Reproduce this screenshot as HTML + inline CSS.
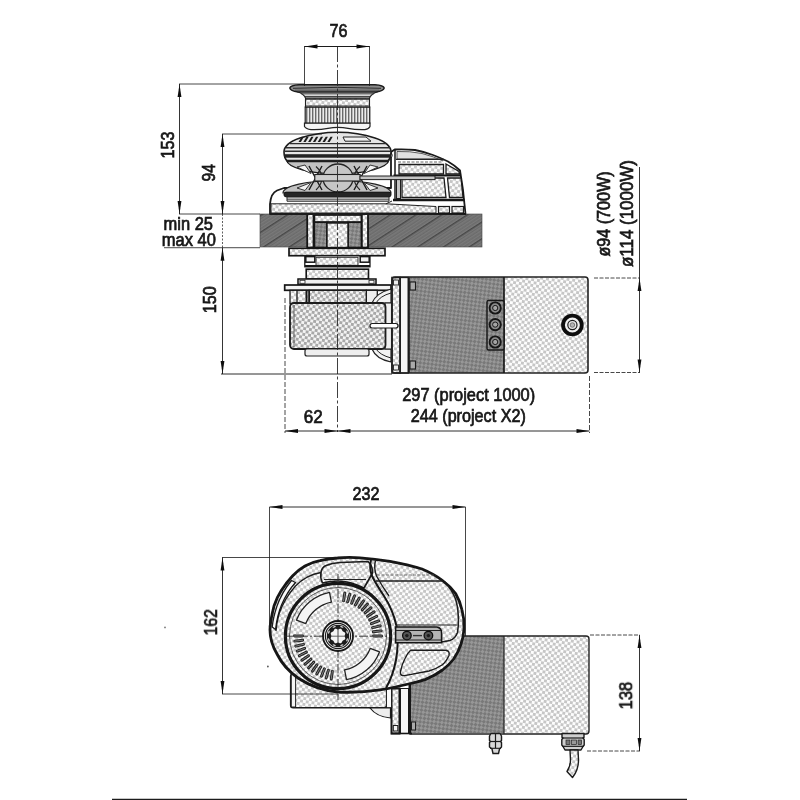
<!DOCTYPE html>
<html><head><meta charset="utf-8"><title>Windlass dimensions</title>
<style>
html,body{margin:0;padding:0;background:#fff;}
body{width:800px;height:800px;overflow:hidden;font-family:"Liberation Sans",sans-serif;}
svg{display:block}
text{font-family:"Liberation Sans",sans-serif;fill:#151515;stroke:#151515;stroke-width:0.7px;}
</style></head><body>
<svg width="800" height="800" viewBox="0 0 800 800">
<defs>
<pattern id="pL" width="5.8" height="5.8" patternUnits="userSpaceOnUse" patternTransform="rotate(9)"><rect width="5.8" height="5.8" fill="#fdfdfd"/><rect x="0" y="0" width="2.9" height="2.9" fill="#c6c6c6"/><rect x="2.9" y="2.9" width="2.9" height="2.9" fill="#c6c6c6"/></pattern>
<pattern id="pM" width="5.8" height="5.8" patternUnits="userSpaceOnUse" patternTransform="rotate(9)"><rect width="5.8" height="5.8" fill="#f4f4f4"/><rect x="0" y="0" width="2.9" height="2.9" fill="#a8a8a8"/><rect x="2.9" y="2.9" width="2.9" height="2.9" fill="#a8a8a8"/></pattern>
<pattern id="pD" width="5.6" height="5.6" patternUnits="userSpaceOnUse" patternTransform="rotate(-38)"><rect width="5.6" height="5.6" fill="#979797"/><rect x="0" y="0" width="2.8" height="2.8" fill="#797979"/><rect x="2.8" y="2.8" width="2.8" height="2.8" fill="#797979"/></pattern>
<pattern id="pK" width="14" height="14" patternUnits="userSpaceOnUse" patternTransform="rotate(-33)"><rect width="14" height="14" fill="#7a7a7a"/><rect y="2.8" width="14" height="1.3" fill="#696969"/><rect y="5.6" width="14" height="1.3" fill="#696969"/><rect y="8.4" width="14" height="1.3" fill="#696969"/><rect y="11.2" width="14" height="1.3" fill="#696969"/><rect width="14" height="1.5" fill="#474747"/></pattern>
<pattern id="pV" width="3" height="4" patternUnits="userSpaceOnUse"><rect width="3" height="4" fill="#ececec"/><rect width="1.4" height="4" fill="#6a6a6a"/></pattern>
<filter id="soft" x="-2%" y="-2%" width="104%" height="104%"><feGaussianBlur stdDeviation="0.45"/></filter>
<filter id="soft2" x="-2%" y="-2%" width="104%" height="104%"><feGaussianBlur stdDeviation="0.3"/></filter>
</defs>
<rect width="800" height="800" fill="#fff"/>
<g filter="url(#soft)">

<rect x="260" y="214" width="222" height="33" fill="url(#pK)" stroke="#444" stroke-width="0.6" />
<rect x="307" y="214" width="61" height="33.5" fill="#fff" stroke="none" stroke-width="1" />
<rect x="307.2" y="214" width="6.3" height="33.5" fill="url(#pL)" stroke="#151515" stroke-width="1.8" />
<rect x="361.8" y="214" width="6.2" height="33.5" fill="url(#pL)" stroke="#151515" stroke-width="1.8" />
<rect x="314.4" y="222" width="12.6" height="25.5" fill="url(#pD)" stroke="#151515" stroke-width="1.6" />
<rect x="348" y="222" width="13.4" height="25.5" fill="url(#pD)" stroke="#151515" stroke-width="1.6" />
<rect x="327" y="223" width="21" height="24.5" fill="url(#pL)" stroke="#151515" stroke-width="1.4" />
<rect x="314.4" y="215" width="47" height="7" fill="url(#pL)" stroke="#151515" stroke-width="1.7" />
<rect x="289" y="248.3" width="96" height="7.4" fill="url(#pL)" stroke="#151515" stroke-width="1.7" />
<rect x="304.8" y="255.8" width="65.2" height="11" fill="#fff" stroke="#1a1a1a" stroke-width="1.3" />
<rect x="316" y="257.3" width="42" height="8" fill="url(#pL)" stroke="#222" stroke-width="0.9" />
<rect x="305.8" y="256.6" width="9" height="5.6" fill="#f2f2f2" stroke="#151515" stroke-width="1.5" />
<rect x="360.2" y="256.6" width="9" height="5.6" fill="#f2f2f2" stroke="#151515" stroke-width="1.5" />
<line x1="305" y1="266" x2="370" y2="266" stroke="#151515" stroke-width="2.2" />
<rect x="306.2" y="269.2" width="62.3" height="9.8" fill="url(#pL)" stroke="#151515" stroke-width="1.6" />
<rect x="298" y="279" width="78" height="5.3" fill="#f0f0f0" stroke="#151515" stroke-width="1.5" />
<rect x="300" y="280.3" width="5" height="3" fill="#fff" stroke="#222" stroke-width="0.8" />
<rect x="369" y="280.3" width="5" height="3" fill="#fff" stroke="#222" stroke-width="0.8" />
<rect x="284.7" y="285" width="106.3" height="5.3" fill="#f4f4f4" stroke="#151515" stroke-width="1.7" />
<rect x="290" y="290.3" width="19" height="13.5" fill="url(#pL)" stroke="#1a1a1a" stroke-width="1.3" />
<line x1="297" y1="290.3" x2="297" y2="303.8" stroke="#1a1a1a" stroke-width="1.3" />
<line x1="306.5" y1="290.3" x2="306.5" y2="303.8" stroke="#151515" stroke-width="2" />
<rect x="366.3" y="290.3" width="11" height="13.5" fill="#eee" stroke="#1a1a1a" stroke-width="1.3" />
<rect x="309.3" y="290.3" width="57" height="13.5" fill="url(#pM)" stroke="#1a1a1a" stroke-width="1.4" />
<path d="M372 303 Q376 293 391 289 L391 303 Z" fill="#f2f2f2" stroke="#222" stroke-width="1.2" />
<path d="M376 303 Q380 296 391 293" fill="none" stroke="#222" stroke-width="1" />
<path d="M372 349 Q376 359 391 362 L391 349 Z" fill="#f2f2f2" stroke="#222" stroke-width="1.2" />
<path d="M376 349 Q380 355 391 358" fill="none" stroke="#222" stroke-width="1" />
<rect x="385" y="303" width="6.5" height="46" fill="#f0f0f0" stroke="#222" stroke-width="1.1" />
<rect x="290" y="303" width="95.5" height="46" fill="url(#pM)" stroke="#1a1a1a" stroke-width="1.8" rx="4"/>
<line x1="294" y1="305" x2="294" y2="347" stroke="#444" stroke-width="0.8" />
<rect x="305" y="349" width="64" height="7" fill="#eee" stroke="#222" stroke-width="1.2" rx="2"/>
<rect x="392" y="277" width="196" height="96" fill="#fff" stroke="none" stroke-width="1" />
<rect x="408" y="277" width="96" height="96" fill="url(#pD)" stroke="none" stroke-width="1" />
<rect x="504" y="277" width="84" height="96" fill="url(#pL)" stroke="none" stroke-width="1" />
<rect x="392" y="277.5" width="8" height="95.5" fill="url(#pL)" stroke="#1a1a1a" stroke-width="1.6" />
<rect x="393.5" y="280" width="5" height="5" fill="#eee" stroke="#222" stroke-width="0.9" />
<rect x="393.5" y="365" width="5" height="5" fill="#eee" stroke="#222" stroke-width="0.9" />
<rect x="400.3" y="277.5" width="8" height="95.5" fill="#f6f6f6" stroke="#1a1a1a" stroke-width="1.3" />
<line x1="408.8" y1="277.5" x2="408.8" y2="373" stroke="#1a1a1a" stroke-width="2" />
<rect x="392" y="277" width="196" height="96" fill="none" stroke="#222" stroke-width="1.6" rx="3"/>
<line x1="504" y1="277" x2="504" y2="373" stroke="#1a1a1a" stroke-width="1.7" />
<rect x="410" y="282" width="5.5" height="8" fill="#aaa" stroke="#1a1a1a" stroke-width="1.1" />
<rect x="410" y="361" width="5.5" height="8" fill="#aaa" stroke="#1a1a1a" stroke-width="1.1" />
<rect x="370" y="323.5" width="28" height="4.5" fill="#fff" stroke="#1a1a1a" stroke-width="1.2" rx="2.2"/>
<rect x="487" y="300.5" width="17" height="49.5" fill="url(#pD)" stroke="#151515" stroke-width="1.4" rx="1.5"/>
<circle cx="495.2" cy="308" r="5.6" fill="#8c8c8c" stroke="#151515" stroke-width="1.9"/><circle cx="495.2" cy="308" r="2.6" fill="#a5a5a5" stroke="#1a1a1a" stroke-width="1"/>
<circle cx="495.2" cy="324.6" r="5.6" fill="#8c8c8c" stroke="#151515" stroke-width="1.9"/><circle cx="495.2" cy="324.6" r="2.6" fill="#a5a5a5" stroke="#1a1a1a" stroke-width="1"/>
<circle cx="495.2" cy="342" r="5.6" fill="#8c8c8c" stroke="#151515" stroke-width="1.9"/><circle cx="495.2" cy="342" r="2.6" fill="#a5a5a5" stroke="#1a1a1a" stroke-width="1"/>
<circle cx="572.4" cy="325" r="9.4" fill="#f0f0f0" stroke="#111" stroke-width="3.8"/><circle cx="572.4" cy="325" r="4.6" fill="#e6e6e6" stroke="#1a1a1a" stroke-width="1.2"/><circle cx="572.4" cy="325" r="2.3" fill="#b5b5b5" stroke="#444" stroke-width="0.6"/>
<path d="M270 214 L270 204 Q271 193 277 190.5 L284 188 L391 188 L391 152 L394.7 149.5 Q405 149 415 150 Q425 152 433 155 Q441 158 448 161.5 Q455 165.5 460 170.5 L463 190 L465.5 214 Z" fill="#fff" stroke="#1a1a1a" stroke-width="1.8" stroke-linejoin="round"/>
<path d="M271 203.8 L386 203.8 L436 206.5 L436 213 L271 213 Z" fill="url(#pL)" stroke="#222" stroke-width="1" />
<path d="M386 203.8 L392 201" fill="none" stroke="#222" stroke-width="1" />
<rect x="438.5" y="206.5" width="11" height="6.5" fill="url(#pL)" stroke="#1a1a1a" stroke-width="1.2" />
<rect x="452" y="206.5" width="11.5" height="6.5" fill="url(#pL)" stroke="#1a1a1a" stroke-width="1.2" />
<path d="M397 151.5 Q410 151 422 153.5 Q434 156.5 443 161 L443 159 L397 159 Z" fill="#e0e0e0" stroke="#333" stroke-width="0.8" />
<line x1="396" y1="159.3" x2="444" y2="159.3" stroke="#222" stroke-width="1.3" />
<line x1="398" y1="162" x2="443" y2="162" stroke="#555" stroke-width="0.9" stroke-dasharray="3 1.5"/>
<path d="M399 164.5 L443.5 164.5 L443.5 174 L399 174 Z" fill="url(#pL)" stroke="#1a1a1a" stroke-width="1.3" />
<path d="M446 164 L459 171.5 L459.5 174 L446 174 Z" fill="url(#pL)" stroke="#1a1a1a" stroke-width="1.3" />
<path d="M402 178 L444 178 L446 197.5 L402 197.5 Z" fill="url(#pL)" stroke="#1a1a1a" stroke-width="1.3" />
<path d="M447.5 178 L461 178 L463 197.5 L449.5 197.5 Z" fill="url(#pL)" stroke="#1a1a1a" stroke-width="1.3" />
<line x1="393.5" y1="175.5" x2="461" y2="175.5" stroke="#151515" stroke-width="2.2" />
<line x1="393" y1="200" x2="464.5" y2="200" stroke="#151515" stroke-width="2.6" />
<line x1="395" y1="150" x2="395" y2="200" stroke="#1a1a1a" stroke-width="1.5" />
<rect x="396.5" y="178" width="4" height="20.5" fill="#c4c4c4" stroke="#1a1a1a" stroke-width="1" />
<path d="M391 152 Q393.5 155 391 159" fill="#ddd" stroke="#222" stroke-width="1" />
<path d="M283 193 A54 12.5 0 0 1 391 193 Z" fill="#c2c2c2" stroke="#222" stroke-width="1.2" />
<path d="M286.5 160 A51.3 14.5 0 0 0 389 160 Z" fill="#c2c2c2" stroke="#1a1a1a" stroke-width="1.4" />
<path d="M297 167 L311 173.5 L305 165 Z" fill="#f4f4f4" stroke="#222" stroke-width="0.9" />
<path d="M378 167 L364 173.5 L370 165 Z" fill="#f4f4f4" stroke="#222" stroke-width="0.9" />
<path d="M297 188 L311 182.5 L305 190.5 Z" fill="#f4f4f4" stroke="#222" stroke-width="0.9" />
<path d="M378 188 L364 182.5 L370 190.5 Z" fill="#f4f4f4" stroke="#222" stroke-width="0.9" />
<ellipse cx="338" cy="178" rx="15" ry="14" fill="#c6c6c6" stroke="#222" stroke-width="1.3"/>
<path d="M316 166.5 Q322 172 322 178 Q322 184 316 190 M360 166.5 Q354 172 354 178 Q354 184 360 190" fill="none" stroke="#222" stroke-width="1.1" />
<path d="M309 166 L322 190 M322 166 L309 190 M367 166 L354 190 M354 166 L367 190" fill="none" stroke="#1a1a1a" stroke-width="1.4" />
<rect x="314.8" y="174.5" width="45.4" height="6.5" fill="#cdcdcd" stroke="#222" stroke-width="1.1" />
<rect x="360" y="176" width="75" height="3.6" fill="#c4c4c4" stroke="#222" stroke-width="1" />
<rect x="284" y="192.2" width="107" height="4.6" fill="#262626" stroke="#111" stroke-width="1" rx="2"/>
<path d="M287 197 L389 197 L389 201.2 L287 201.2 Z" fill="#e2e2e2" stroke="#222" stroke-width="1" />
<line x1="287" y1="199.2" x2="389" y2="199.2" stroke="#333" stroke-width="0.9" />
<path d="M284 152 Q284 143.5 300 138 Q318 132.3 338 132.3 Q358 132.3 375 138 Q391 143.5 391 152 Q391 158 387.5 161.5 L287.5 161.5 Q284 158 284 152 Z" fill="#e6e6e6" stroke="#1a1a1a" stroke-width="1.6" />
<line x1="290" y1="143.7" x2="386" y2="143.7" stroke="#2e2e2e" stroke-width="1.3" />
<line x1="286" y1="147.7" x2="390" y2="147.7" stroke="#2e2e2e" stroke-width="1.4" />
<line x1="284.5" y1="151.2" x2="391" y2="151.2" stroke="#2e2e2e" stroke-width="1.4" />
<rect x="284" y="154.2" width="107" height="3.5" fill="#222" stroke="none" stroke-width="1" />
<line x1="286" y1="160.3" x2="389" y2="160.3" stroke="#222" stroke-width="1.3" />
<path d="M298.5 142 L301.7 136.8 L303.9 136.8 L300.9 142 Z" fill="#1d1d1d" stroke="none" stroke-width="0" />
<path d="M303.3 142 L306.5 136.8 L308.7 136.8 L305.7 142 Z" fill="#1d1d1d" stroke="none" stroke-width="0" />
<path d="M308.1 142 L311.3 136.8 L313.5 136.8 L310.5 142 Z" fill="#1d1d1d" stroke="none" stroke-width="0" />
<path d="M312.9 142 L316.09999999999997 136.8 L318.29999999999995 136.8 L315.29999999999995 142 Z" fill="#1d1d1d" stroke="none" stroke-width="0" />
<path d="M317.7 142 L320.9 136.8 L323.09999999999997 136.8 L320.09999999999997 142 Z" fill="#1d1d1d" stroke="none" stroke-width="0" />
<path d="M322.5 142 L325.7 136.8 L327.9 136.8 L324.9 142 Z" fill="#1d1d1d" stroke="none" stroke-width="0" />
<path d="M327.3 142 L330.5 136.8 L332.7 136.8 L329.7 142 Z" fill="#1d1d1d" stroke="none" stroke-width="0" />
<path d="M343 137 L366 137 L371 141.2 L345 141.2 Z" fill="#f2f2f2" stroke="#222" stroke-width="1" />
<path d="M304.5 123 L304.5 126.5 Q306 129 311 129.6 Q320 130 328 128.3 Q338 126.5 348 128.3 Q356 130 365 129.6 Q369 129 370 126.5 L370 123 Z" fill="#f4f4f4" stroke="#222" stroke-width="1.2" />
<rect x="305.2" y="107" width="64.6" height="16" fill="url(#pV)" stroke="#222" stroke-width="1.2" />
<rect x="305.5" y="98" width="64" height="9" fill="url(#pL)" stroke="#222" stroke-width="1.1" />
<line x1="305.5" y1="99.2" x2="369.5" y2="99.2" stroke="#2a2a2a" stroke-width="1.2" />
<line x1="305.5" y1="106" x2="369.5" y2="106" stroke="#2a2a2a" stroke-width="1.0" />
<path d="M297 91.5 L378 91.5 Q371 94 369.5 98 L305.5 98 Q304 94 297 91.5 Z" fill="#d6d6d6" stroke="#222" stroke-width="1.1" />
<line x1="301" y1="93.8" x2="374" y2="93.8" stroke="#333" stroke-width="0.9" />
<line x1="304" y1="96.5" x2="371" y2="96.5" stroke="#333" stroke-width="0.9" />
<path d="M289.8 88 Q290.5 85.3 299 84.8 L375 84.8 Q383.5 85.3 384.2 88 Q383.5 91 376 92 L298 92 Q290.5 91 289.8 88 Z" fill="#8a8a8a" stroke="#1a1a1a" stroke-width="1.4" />
<path d="M293 88.3 Q338 86.4 381 88.3" fill="none" stroke="#2a2a2a" stroke-width="1" />
<path d="M295 90.2 L379 90.2" fill="none" stroke="#444" stroke-width="0.8" />
</g>
<g filter="url(#soft2)">
<line x1="337.5" y1="46" x2="337.5" y2="432" stroke="#2a2a2a" stroke-width="0.9" stroke-dasharray="16 2.5 3 2.5"/>
<line x1="304.5" y1="46.5" x2="369.5" y2="46.5" stroke="#1c1c1c" stroke-width="1" />
<line x1="304.5" y1="46" x2="304.5" y2="86" stroke="#1c1c1c" stroke-width="0.8" />
<line x1="369.5" y1="46" x2="369.5" y2="86" stroke="#1c1c1c" stroke-width="0.8" />
<polygon points="304.5,46.5 317.5,44.6 317.5,48.4" fill="#111"/>
<polygon points="369.5,46.5 356.5,44.6 356.5,48.4" fill="#111"/>
<line x1="179.5" y1="84" x2="179.5" y2="214" stroke="#1c1c1c" stroke-width="0.9" />
<line x1="179" y1="84" x2="304.5" y2="84" stroke="#1c1c1c" stroke-width="0.8" />
<polygon points="179.5,84 177.6,97 181.4,97" fill="#111"/>
<polygon points="179.5,214 177.6,201 181.4,201" fill="#111"/>
<line x1="222.5" y1="134" x2="222.5" y2="214" stroke="#1c1c1c" stroke-width="0.9" />
<line x1="222" y1="134" x2="322" y2="134" stroke="#1c1c1c" stroke-width="0.8" />
<polygon points="222.5,134 220.6,147 224.4,147" fill="#111"/>
<polygon points="222.5,214 220.6,201 224.4,201" fill="#111"/>
<line x1="179" y1="214" x2="260" y2="214" stroke="#1c1c1c" stroke-width="0.8" />
<line x1="164" y1="247.7" x2="260" y2="247.7" stroke="#1c1c1c" stroke-width="0.8" />
<line x1="222.5" y1="214" x2="222.5" y2="247.7" stroke="#1c1c1c" stroke-width="0.7" stroke-dasharray="2 1.5"/>
<line x1="222.5" y1="247.7" x2="222.5" y2="374" stroke="#1c1c1c" stroke-width="0.9" />
<polygon points="222.5,247.7 220.6,260.7 224.4,260.7" fill="#111"/>
<polygon points="222.5,374 220.6,361 224.4,361" fill="#111"/>
<line x1="221" y1="374" x2="392" y2="374" stroke="#1c1c1c" stroke-width="0.9" />
<line x1="285" y1="298" x2="285" y2="433" stroke="#1c1c1c" stroke-width="0.8" stroke-dasharray="5 2"/>
<line x1="285" y1="431" x2="589.5" y2="431" stroke="#1c1c1c" stroke-width="0.9" />
<polygon points="285,431 298,429.1 298,432.9" fill="#111"/>
<polygon points="337.5,431 324.5,429.1 324.5,432.9" fill="#111"/>
<polygon points="337.5,431 350.5,429.1 350.5,432.9" fill="#111"/>
<polygon points="589.5,431 576.5,429.1 576.5,432.9" fill="#111"/>
<line x1="589.5" y1="376" x2="589.5" y2="433" stroke="#1c1c1c" stroke-width="0.8" stroke-dasharray="5 2"/>
<line x1="594" y1="278" x2="640" y2="278" stroke="#1c1c1c" stroke-width="0.8" stroke-dasharray="4 1.5"/>
<line x1="594" y1="372.5" x2="640" y2="372.5" stroke="#1c1c1c" stroke-width="0.8" stroke-dasharray="4 1.5"/>
<line x1="639.5" y1="167" x2="639.5" y2="372.5" stroke="#1c1c1c" stroke-width="0.9" />
<polygon points="639.5,278 637.6,291 641.4,291" fill="#111"/>
<polygon points="639.5,372.5 637.6,359.5 641.4,359.5" fill="#111"/>
</g>
<g filter="url(#soft)">
<rect x="410" y="636" width="94" height="97" fill="url(#pD)" stroke="none" stroke-width="1" />
<rect x="504" y="636" width="85" height="97" fill="url(#pL)" stroke="none" stroke-width="1" />
<path d="M410 636 L586 636 Q589 636 589 639 L589 731 Q589 734 586 734 L410 734 Z" fill="none" stroke="#222" stroke-width="1.4" />
<line x1="504" y1="636" x2="504" y2="734" stroke="#222" stroke-width="1.2" />
<rect x="391.5" y="688.5" width="8" height="45" fill="url(#pL)" stroke="#151515" stroke-width="2" />
<rect x="400.5" y="688.5" width="8" height="45" fill="#f6f6f6" stroke="#1a1a1a" stroke-width="1" />
<line x1="409.7" y1="684" x2="409.7" y2="733.5" stroke="#151515" stroke-width="2.4" />
<rect x="393.3" y="725.5" width="4.5" height="5.5" fill="#f2f2f2" stroke="#1a1a1a" stroke-width="1" />
<rect x="411.5" y="722" width="4" height="8" fill="#aaa" stroke="#1a1a1a" stroke-width="1" />
<line x1="391" y1="733.5" x2="412" y2="733.5" stroke="#151515" stroke-width="1.6" />
<rect x="290.6" y="674" width="96" height="33.7" fill="url(#pL)" stroke="#1a1a1a" stroke-width="1.4" rx="2.5"/>
<rect x="386.5" y="688" width="5" height="19.7" fill="#fafafa" stroke="#222" stroke-width="1" />
<rect x="291.3" y="674" width="4.3" height="33" fill="#f4f4f4" stroke="#222" stroke-width="1" />
<path d="M370 708 Q377 717 390.5 718 L390.5 708 Z" fill="#eee" stroke="#1a1a1a" stroke-width="1.2" />
<path d="M491 733.5 L500 733.5 L501.5 736 L501.5 740.5 L500.5 741.5 L501.5 742.5 L501.5 747 L499.5 749 L498.5 753.5 L493 753.5 L492 749 L489.5 747 L489.5 742.5 L490.5 741.5 L489.5 740.5 L489.5 736 Z" fill="#d8d8d8" stroke="#1a1a1a" stroke-width="1.4" stroke-linejoin="round"/>
<line x1="489.5" y1="741.5" x2="501.5" y2="741.5" stroke="#1a1a1a" stroke-width="1.2" />
<line x1="495.5" y1="734" x2="495.5" y2="748" stroke="#1a1a1a" stroke-width="1.2" />
<line x1="490" y1="748.3" x2="501" y2="748.3" stroke="#1a1a1a" stroke-width="1.1" />
<path d="M562 733.5 L584 733.5 L584 737.5 L583 738 L584.2 739.5 L584.2 745 L583 746.5 L581 750 L565 750 L563 746.5 L561.8 745 L561.8 739.5 L563 738 L562 737.5 Z" fill="#cfcfcf" stroke="#1a1a1a" stroke-width="1.4" stroke-linejoin="round"/>
<line x1="562" y1="738" x2="584" y2="738" stroke="#1a1a1a" stroke-width="1.2" />
<line x1="562.5" y1="746.3" x2="583.5" y2="746.3" stroke="#1a1a1a" stroke-width="1.2" />
<rect x="566" y="740" width="4" height="4.5" fill="#777" stroke="#222" stroke-width="0.7" />
<rect x="571.5" y="740" width="5" height="4.5" fill="#999" stroke="#222" stroke-width="0.7" />
<rect x="578" y="740" width="3.5" height="4.5" fill="#777" stroke="#222" stroke-width="0.7" />
<path d="M570 750 L570.5 760 Q570.5 766 567 771.5 L572.5 777.5 Q578.5 770 578.5 760 L578 750 Z" fill="url(#pL)" stroke="#1a1a1a" stroke-width="1.4" stroke-linejoin="round"/>
<path d="M270 630 Q270 622 274 606 Q277 597 281 591 Q286 583 292.5 576 Q298 570 305 566 Q312 562 320 560.6 Q328 558.6 337.5 558 Q348 557 360 557.8 Q375 559 390 561.3 Q408 564.5 422 569 Q434 574 442.5 580.5 Q450 586 455.6 593.5 Q460 601 462 610 Q464.5 619 464 629 Q463.5 637 461 644 Q458.5 652 453.7 659 Q449 665 442.5 670 Q435 675.5 425.6 679.4 Q418 682 410.6 683.5 L397.5 686.5 Q388 688.8 380 689.8 Q360 693 338 692 Q316 690 298 678 Q284 668 277 654 Q270 642 270 630 Z" fill="url(#pL)" stroke="#151515" stroke-width="2.8" stroke-linejoin="round"/>
<path d="M445 582 Q452 590 455.6 599 Q458.5 608 458.4 618 Q458.6 626 457.5 632.5 Q455 639 450 640.5 L441.5 642" fill="none" stroke="#1a1a1a" stroke-width="1.5" />
<path d="M291.5 580.5 Q282 592 277 606 Q273 618 272.2 627 L275.6 629.5 Q277 616 281.5 605 Q287 592 295.5 582.5 Z" fill="#fafafa" stroke="#1a1a1a" stroke-width="1.3" stroke-linejoin="round"/>
<path d="M321 572.5 Q306 575 295.5 586 Q284 599 279 614 Q276.5 623 276 631" fill="none" stroke="#1a1a1a" stroke-width="1.3" />
<path d="M321 572.5 Q322 567 326 565.5 Q332 563 340 562.5 L368 561.5 Q373 566 372.5 573 L364 588 Q350 581 338 581 Q330 581 322.5 583 Q320 578 321 572.5 Z" fill="url(#pL)" stroke="#1a1a1a" stroke-width="1.6" stroke-linejoin="round"/>
<line x1="324" y1="579.5" x2="366" y2="579.5" stroke="#222" stroke-width="1.1" />
<path d="M371 560 Q369 568 372 576 Q376 584 384 596 Q393 610 396.5 626 Q399 644 396 660 Q393 676 386 688" fill="none" stroke="#151515" stroke-width="2" />
<path d="M375.5 560.5 Q373.5 568 376.5 576 Q382 586 389 596" fill="none" stroke="#1a1a1a" stroke-width="1.4" />
<line x1="376" y1="581" x2="443" y2="581" stroke="#1d1d1d" stroke-width="1.5" />
<line x1="377" y1="575" x2="436" y2="575" stroke="#555" stroke-width="0.8" stroke-dasharray="3 1.5"/>
<line x1="396" y1="625" x2="457.5" y2="625" stroke="#222" stroke-width="1.2" />
<path d="M395.6 627 L437 627 Q441.6 628 441.6 633 L441.6 642.8 L395.6 642.8 Z" fill="#b5b5b5" stroke="#151515" stroke-width="1.6" />
<line x1="396" y1="630.5" x2="441" y2="630.5" stroke="#222" stroke-width="1" />
<line x1="396" y1="640" x2="441" y2="640" stroke="#222" stroke-width="1" />
<circle cx="406.9" cy="635.6" r="4.3" fill="#555" stroke="#111" stroke-width="1.3"/><circle cx="406.9" cy="635.6" r="1.7" fill="#1a1a1a"/>
<circle cx="428.4" cy="635.6" r="4.3" fill="#555" stroke="#111" stroke-width="1.3"/><circle cx="428.4" cy="635.6" r="1.7" fill="#1a1a1a"/>
<line x1="413" y1="635.6" x2="422" y2="635.6" stroke="#333" stroke-width="1.4" />
<path d="M410.6 650.3 L446 650.3 Q450 651 449 655.5 Q446 662 442 665 Q436 669 429 671 L404.5 675.6 Q400 676 400.3 672 Q402 664 405 658.5 Q407.5 653 410.6 650.3 Z" fill="url(#pL)" stroke="#1a1a1a" stroke-width="1.4" stroke-linejoin="round"/>
<circle cx="338" cy="636" r="52.6" fill="url(#pL)" stroke="#151515" stroke-width="3.2"/>
<circle cx="338" cy="636" r="48.5" fill="none" stroke="#333" stroke-width="0.8"/>
<line x1="284" y1="636.2" x2="392" y2="636.2" stroke="#2a2a2a" stroke-width="0.9" stroke-dasharray="9 2 2 2"/>
<line x1="338" y1="574" x2="338" y2="700" stroke="#2a2a2a" stroke-width="0.9" stroke-dasharray="9 2 2 2"/>
<path d="M329.5 592.3 A44.5 44.5 0 0 0 296.5 620.1 L305.8 623.6 A34.5 34.5 0 0 1 331.4 602.1 Z" fill="#f4f4f4" stroke="#222" stroke-width="1.3" stroke-linejoin="round"/>
<path d="M346.5 679.7 A44.5 44.5 0 0 0 379.5 651.9 L370.2 648.4 A34.5 34.5 0 0 1 344.6 669.9 Z" fill="#f4f4f4" stroke="#222" stroke-width="1.3" stroke-linejoin="round"/>
<line x1="343.6" y1="600.9" x2="344.8" y2="593.0" stroke="#222" stroke-width="2.9" stroke-linecap="round"/>
<line x1="343.6" y1="600.9" x2="344.8" y2="593.0" stroke="#8a8a8a" stroke-width="0.9" stroke-linecap="round"/>
<line x1="347.6" y1="601.8" x2="349.8" y2="594.1" stroke="#222" stroke-width="2.9" stroke-linecap="round"/>
<line x1="347.6" y1="601.8" x2="349.8" y2="594.1" stroke="#8a8a8a" stroke-width="0.9" stroke-linecap="round"/>
<line x1="351.6" y1="603.2" x2="354.6" y2="595.8" stroke="#222" stroke-width="2.9" stroke-linecap="round"/>
<line x1="351.6" y1="603.2" x2="354.6" y2="595.8" stroke="#8a8a8a" stroke-width="0.9" stroke-linecap="round"/>
<line x1="355.3" y1="605.0" x2="359.3" y2="598.0" stroke="#222" stroke-width="2.9" stroke-linecap="round"/>
<line x1="355.3" y1="605.0" x2="359.3" y2="598.0" stroke="#8a8a8a" stroke-width="0.9" stroke-linecap="round"/>
<line x1="358.9" y1="607.3" x2="363.6" y2="600.8" stroke="#222" stroke-width="2.9" stroke-linecap="round"/>
<line x1="358.9" y1="607.3" x2="363.6" y2="600.8" stroke="#8a8a8a" stroke-width="0.9" stroke-linecap="round"/>
<line x1="362.1" y1="609.9" x2="367.5" y2="604.1" stroke="#222" stroke-width="2.9" stroke-linecap="round"/>
<line x1="362.1" y1="609.9" x2="367.5" y2="604.1" stroke="#8a8a8a" stroke-width="0.9" stroke-linecap="round"/>
<line x1="365.0" y1="612.9" x2="371.1" y2="607.7" stroke="#222" stroke-width="2.9" stroke-linecap="round"/>
<line x1="365.0" y1="612.9" x2="371.1" y2="607.7" stroke="#8a8a8a" stroke-width="0.9" stroke-linecap="round"/>
<line x1="367.5" y1="616.3" x2="374.2" y2="611.8" stroke="#222" stroke-width="2.9" stroke-linecap="round"/>
<line x1="367.5" y1="616.3" x2="374.2" y2="611.8" stroke="#8a8a8a" stroke-width="0.9" stroke-linecap="round"/>
<line x1="369.6" y1="619.9" x2="376.8" y2="616.3" stroke="#222" stroke-width="2.9" stroke-linecap="round"/>
<line x1="369.6" y1="619.9" x2="376.8" y2="616.3" stroke="#8a8a8a" stroke-width="0.9" stroke-linecap="round"/>
<line x1="371.3" y1="623.7" x2="378.8" y2="620.9" stroke="#222" stroke-width="2.9" stroke-linecap="round"/>
<line x1="371.3" y1="623.7" x2="378.8" y2="620.9" stroke="#8a8a8a" stroke-width="0.9" stroke-linecap="round"/>
<line x1="372.5" y1="627.7" x2="380.3" y2="625.8" stroke="#222" stroke-width="2.9" stroke-linecap="round"/>
<line x1="372.5" y1="627.7" x2="380.3" y2="625.8" stroke="#8a8a8a" stroke-width="0.9" stroke-linecap="round"/>
<line x1="373.3" y1="631.8" x2="381.2" y2="630.9" stroke="#222" stroke-width="2.9" stroke-linecap="round"/>
<line x1="373.3" y1="631.8" x2="381.2" y2="630.9" stroke="#8a8a8a" stroke-width="0.9" stroke-linecap="round"/>
<line x1="373.5" y1="636.0" x2="381.5" y2="636.0" stroke="#222" stroke-width="2.9" stroke-linecap="round"/>
<line x1="373.5" y1="636.0" x2="381.5" y2="636.0" stroke="#8a8a8a" stroke-width="0.9" stroke-linecap="round"/>
<line x1="332.4" y1="671.1" x2="331.2" y2="679.0" stroke="#222" stroke-width="2.9" stroke-linecap="round"/>
<line x1="332.4" y1="671.1" x2="331.2" y2="679.0" stroke="#8a8a8a" stroke-width="0.9" stroke-linecap="round"/>
<line x1="328.4" y1="670.2" x2="326.2" y2="677.9" stroke="#222" stroke-width="2.9" stroke-linecap="round"/>
<line x1="328.4" y1="670.2" x2="326.2" y2="677.9" stroke="#8a8a8a" stroke-width="0.9" stroke-linecap="round"/>
<line x1="324.4" y1="668.8" x2="321.4" y2="676.2" stroke="#222" stroke-width="2.9" stroke-linecap="round"/>
<line x1="324.4" y1="668.8" x2="321.4" y2="676.2" stroke="#8a8a8a" stroke-width="0.9" stroke-linecap="round"/>
<line x1="320.7" y1="667.0" x2="316.7" y2="674.0" stroke="#222" stroke-width="2.9" stroke-linecap="round"/>
<line x1="320.7" y1="667.0" x2="316.7" y2="674.0" stroke="#8a8a8a" stroke-width="0.9" stroke-linecap="round"/>
<line x1="317.1" y1="664.7" x2="312.4" y2="671.2" stroke="#222" stroke-width="2.9" stroke-linecap="round"/>
<line x1="317.1" y1="664.7" x2="312.4" y2="671.2" stroke="#8a8a8a" stroke-width="0.9" stroke-linecap="round"/>
<line x1="313.9" y1="662.1" x2="308.5" y2="667.9" stroke="#222" stroke-width="2.9" stroke-linecap="round"/>
<line x1="313.9" y1="662.1" x2="308.5" y2="667.9" stroke="#8a8a8a" stroke-width="0.9" stroke-linecap="round"/>
<line x1="311.0" y1="659.1" x2="304.9" y2="664.3" stroke="#222" stroke-width="2.9" stroke-linecap="round"/>
<line x1="311.0" y1="659.1" x2="304.9" y2="664.3" stroke="#8a8a8a" stroke-width="0.9" stroke-linecap="round"/>
<line x1="308.5" y1="655.7" x2="301.8" y2="660.2" stroke="#222" stroke-width="2.9" stroke-linecap="round"/>
<line x1="308.5" y1="655.7" x2="301.8" y2="660.2" stroke="#8a8a8a" stroke-width="0.9" stroke-linecap="round"/>
<line x1="306.4" y1="652.1" x2="299.2" y2="655.7" stroke="#222" stroke-width="2.9" stroke-linecap="round"/>
<line x1="306.4" y1="652.1" x2="299.2" y2="655.7" stroke="#8a8a8a" stroke-width="0.9" stroke-linecap="round"/>
<line x1="304.7" y1="648.3" x2="297.2" y2="651.1" stroke="#222" stroke-width="2.9" stroke-linecap="round"/>
<line x1="304.7" y1="648.3" x2="297.2" y2="651.1" stroke="#8a8a8a" stroke-width="0.9" stroke-linecap="round"/>
<line x1="303.5" y1="644.3" x2="295.7" y2="646.2" stroke="#222" stroke-width="2.9" stroke-linecap="round"/>
<line x1="303.5" y1="644.3" x2="295.7" y2="646.2" stroke="#8a8a8a" stroke-width="0.9" stroke-linecap="round"/>
<line x1="302.7" y1="640.2" x2="294.8" y2="641.1" stroke="#222" stroke-width="2.9" stroke-linecap="round"/>
<line x1="302.7" y1="640.2" x2="294.8" y2="641.1" stroke="#8a8a8a" stroke-width="0.9" stroke-linecap="round"/>
<line x1="302.5" y1="636.0" x2="294.5" y2="636.0" stroke="#222" stroke-width="2.9" stroke-linecap="round"/>
<line x1="302.5" y1="636.0" x2="294.5" y2="636.0" stroke="#8a8a8a" stroke-width="0.9" stroke-linecap="round"/>
<circle cx="338" cy="636" r="15" fill="#f6f6f6" stroke="#151515" stroke-width="1.8"/>
<circle cx="338" cy="636" r="12.6" fill="#fafafa" stroke="#1a1a1a" stroke-width="1.2"/>
<circle cx="338" cy="636" r="11.2" fill="#1c1c1c" stroke="none"/>
<ellipse cx="347.15" cy="639.79" rx="1.7" ry="0.75" fill="#cfcfcf" transform="rotate(112.5 347.15 639.79)"/>
<ellipse cx="341.79" cy="645.15" rx="1.7" ry="0.75" fill="#cfcfcf" transform="rotate(157.5 341.79 645.15)"/>
<ellipse cx="334.21" cy="645.15" rx="1.7" ry="0.75" fill="#cfcfcf" transform="rotate(202.5 334.21 645.15)"/>
<ellipse cx="328.85" cy="639.79" rx="1.7" ry="0.75" fill="#cfcfcf" transform="rotate(247.5 328.85 639.79)"/>
<ellipse cx="328.85" cy="632.21" rx="1.7" ry="0.75" fill="#cfcfcf" transform="rotate(292.5 328.85 632.21)"/>
<ellipse cx="334.21" cy="626.85" rx="1.7" ry="0.75" fill="#cfcfcf" transform="rotate(337.5 334.21 626.85)"/>
<ellipse cx="341.79" cy="626.85" rx="1.7" ry="0.75" fill="#cfcfcf" transform="rotate(382.5 341.79 626.85)"/>
<ellipse cx="347.15" cy="632.21" rx="1.7" ry="0.75" fill="#cfcfcf" transform="rotate(427.5 347.15 632.21)"/>
<polygon points="344.60,636.00 344.84,636.90 345.24,637.94 345.21,638.98 344.50,639.75 343.47,640.20 342.67,640.67 342.20,641.47 341.75,642.50 340.98,643.21 339.94,643.24 338.90,642.84 338.00,642.60 337.10,642.84 336.06,643.24 335.02,643.21 334.25,642.50 333.80,641.47 333.33,640.67 332.53,640.20 331.50,639.75 330.79,638.98 330.76,637.94 331.16,636.90 331.40,636.00 331.16,635.10 330.76,634.06 330.79,633.02 331.50,632.25 332.53,631.80 333.33,631.33 333.80,630.53 334.25,629.50 335.02,628.79 336.06,628.76 337.10,629.16 338.00,629.40 338.90,629.16 339.94,628.76 340.98,628.79 341.75,629.50 342.20,630.53 342.67,631.33 343.47,631.80 344.50,632.25 345.21,633.02 345.24,634.06 344.84,635.10" fill="#f4f4f4" stroke="none"/>
<line x1="338" y1="629" x2="338" y2="643" stroke="#333" stroke-width="0.9" />
<line x1="331" y1="636.2" x2="345" y2="636.2" stroke="#555" stroke-width="0.9" />
</g>
<g filter="url(#soft2)">
<line x1="269.5" y1="507" x2="465.5" y2="507" stroke="#1c1c1c" stroke-width="0.9" />
<line x1="269.5" y1="507" x2="269.5" y2="628" stroke="#1c1c1c" stroke-width="0.8" />
<line x1="465.5" y1="507" x2="465.5" y2="636" stroke="#1c1c1c" stroke-width="0.8" />
<polygon points="269.5,507 282.5,505.1 282.5,508.9" fill="#111"/>
<polygon points="465.5,507 452.5,505.1 452.5,508.9" fill="#111"/>
<line x1="222.5" y1="557.5" x2="222.5" y2="694" stroke="#1c1c1c" stroke-width="0.9" />
<line x1="222" y1="557.5" x2="345" y2="557.5" stroke="#1c1c1c" stroke-width="0.8" />
<line x1="222" y1="694" x2="338" y2="694" stroke="#1c1c1c" stroke-width="0.8" />
<polygon points="222.5,557.5 220.6,570.5 224.4,570.5" fill="#111"/>
<polygon points="222.5,694 220.6,681 224.4,681" fill="#111"/>
<line x1="639.5" y1="635" x2="639.5" y2="751" stroke="#1c1c1c" stroke-width="0.9" />
<line x1="590" y1="635" x2="640" y2="635" stroke="#1c1c1c" stroke-width="0.8" stroke-dasharray="4 1.5"/>
<line x1="587" y1="751" x2="640" y2="751" stroke="#1c1c1c" stroke-width="0.8" stroke-dasharray="4 1.5"/>
<polygon points="639.5,635 637.6,648 641.4,648" fill="#111"/>
<polygon points="639.5,751 637.6,738 641.4,738" fill="#111"/>
<circle cx="165" cy="627.4" r="0.9" fill="#777"/><circle cx="267.9" cy="666.5" r="0.9" fill="#555"/>
<line x1="112" y1="799.5" x2="687" y2="799.5" stroke="#1a1a1a" stroke-width="1.7" />
</g>
<g filter="url(#soft2)">
<text x="329.5" y="36.5" font-size="18.5" textLength="18" lengthAdjust="spacingAndGlyphs" text-anchor="start">76</text>
<text x="174" y="158.5" font-size="18.5" textLength="27" lengthAdjust="spacingAndGlyphs" text-anchor="start" transform="rotate(-90 174 158.5)">153</text>
<text x="215.3" y="181.5" font-size="18.5" textLength="17.5" lengthAdjust="spacingAndGlyphs" text-anchor="start" transform="rotate(-90 215.3 181.5)">94</text>
<text x="215.6" y="313.3" font-size="18.5" textLength="27" lengthAdjust="spacingAndGlyphs" text-anchor="start" transform="rotate(-90 215.6 313.3)">150</text>
<text x="163.5" y="229.5" font-size="18" textLength="49.5" lengthAdjust="spacingAndGlyphs" text-anchor="start">min 25</text>
<text x="161.8" y="246.1" font-size="18" textLength="54" lengthAdjust="spacingAndGlyphs" text-anchor="start">max 40</text>
<text x="303.8" y="422.7" font-size="18.5" textLength="19" lengthAdjust="spacingAndGlyphs" text-anchor="start">62</text>
<text x="402.2" y="400.6" font-size="18" textLength="133" lengthAdjust="spacingAndGlyphs" text-anchor="start">297 (project 1000)</text>
<text x="410.8" y="422.4" font-size="18" textLength="115" lengthAdjust="spacingAndGlyphs" text-anchor="start">244 (project X2)</text>
<text x="610.3" y="256.5" font-size="18" textLength="85" lengthAdjust="spacingAndGlyphs" text-anchor="start" transform="rotate(-90 610.3 256.5)">ø94 (700W)</text>
<text x="632.5" y="267" font-size="18" textLength="107" lengthAdjust="spacingAndGlyphs" text-anchor="start" transform="rotate(-90 632.5 267)">ø114 (1000W)</text>
<text x="352.5" y="499.6" font-size="18.5" textLength="27" lengthAdjust="spacingAndGlyphs" text-anchor="start">232</text>
<text x="217.3" y="635.3" font-size="18.5" textLength="26" lengthAdjust="spacingAndGlyphs" text-anchor="start" transform="rotate(-90 217.3 635.3)">162</text>
<text x="632.5" y="709.3" font-size="18.5" textLength="27.5" lengthAdjust="spacingAndGlyphs" text-anchor="start" transform="rotate(-90 632.5 709.3)">138</text>
</g>
</svg></body></html>
